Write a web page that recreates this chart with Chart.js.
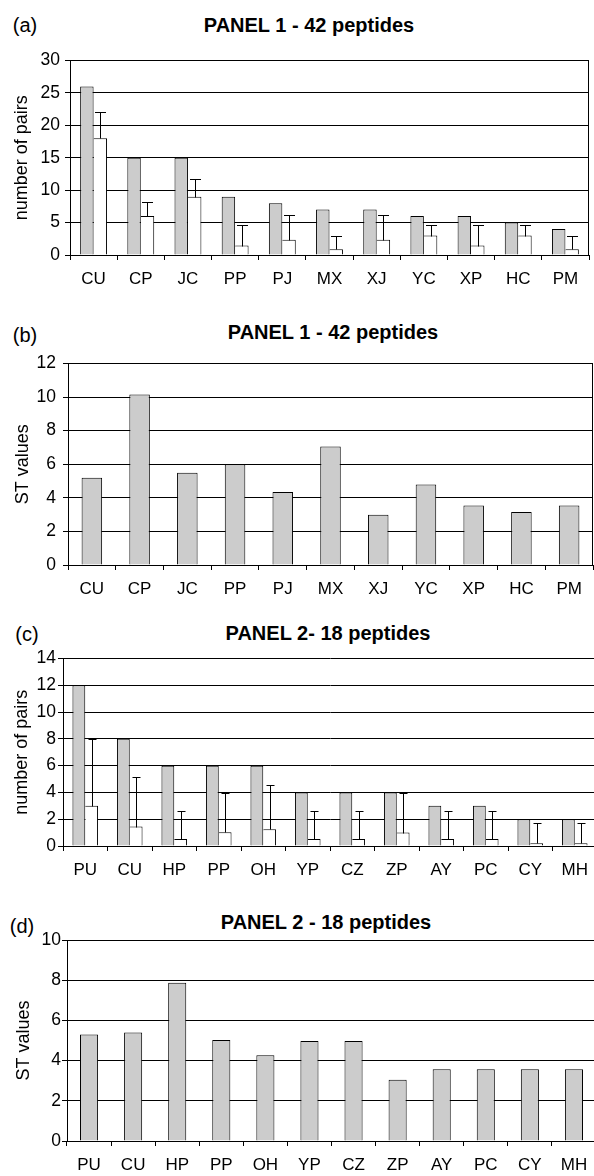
<!DOCTYPE html>
<html>
<head>
<meta charset="utf-8">
<script src="https://cdn.jsdelivr.net/npm/chart.js@4.4.1/dist/chart.umd.min.js"></script>
<style>
  html, body { margin: 0; padding: 0; background: #fff; width: 594px; height: 1176px; overflow: hidden; position: relative; }
  canvas { position: absolute; left: 0; }
  .lbl { position: absolute; font-family: 'Liberation Sans', Arial, sans-serif; color: #000; line-height: 1; white-space: nowrap; transform: translate(-50%, -50%); }
  .ttl { font-weight: bold; font-size: 20px; }
  .pl { font-size: 20px; }
</style>
</head>
<body>
<div class="lbl pl" style="left:25px; top:25px;">(a)</div>
<div class="lbl ttl" style="left:309px; top:25px;">PANEL 1 - 42 peptides</div>
<div class="lbl pl" style="left:25px; top:335px;">(b)</div>
<div class="lbl ttl" style="left:333px; top:332px;">PANEL 1 - 42 peptides</div>
<div class="lbl pl" style="left:27px; top:634px;">(c)</div>
<div class="lbl ttl" style="left:328px; top:633px;">PANEL 2- 18 peptides</div>
<div class="lbl pl" style="left:22px; top:926px;">(d)</div>
<div class="lbl ttl" style="left:326px; top:922px;">PANEL 2 - 18 peptides</div>

<canvas id="cA" width="594" height="250" style="top:45px"></canvas>
<canvas id="cB" width="594" height="259" style="top:346px"></canvas>
<canvas id="cC" width="600" height="240" style="top:646px"></canvas>
<canvas id="cD" width="600" height="253" style="top:928px"></canvas>

<script>
// ---- data ----
const catsPanel1 = ['CU','CP','JC','PP','PJ','MX','XJ','YC','XP','HC','PM'];
const pairsPanel1 = [26, 15, 15, 9, 8, 7, 7, 6, 6, 5, 4];
const expectedPanel1 = [18, 6, 9, 1.45, 2.35, 0.9, 2.35, 3, 1.45, 3, 0.9];
const errUpperPanel1 = [22, 8.2, 11.7, 4.65, 6.1, 3, 6.1, 4.65, 4.65, 4.65, 3];
const stPanel1 = [5.2, 10.15, 5.5, 6.0, 4.35, 7.05, 3.0, 4.8, 3.55, 3.15, 3.55];

const catsPanel2 = ['PU','CU','HP','PP','OH','YP','CZ','ZP','AY','PC','CY','MH'];
const pairsPanel2 = [12, 8, 6, 6, 6, 4, 4, 4, 3, 3, 2, 2];
const expectedPanel2 = [3, 1.45, 0.52, 1.02, 1.25, 0.52, 0.52, 1, 0.52, 0.52, 0.2, 0.2];
const errUpperPanel2 = [8, 5.15, 2.6, 3.95, 4.55, 2.6, 2.6, 3.95, 2.6, 2.6, 1.7, 1.7];
const stPanel2 = [5.3, 5.4, 7.87, 5.03, 4.27, 4.97, 4.97, 3.05, 3.57, 3.57, 3.57, 3.57];

const yTicksA = {min: 0, max: 30, step: 5};
const yTicksB = {min: 0, max: 12, step: 2};
const yTicksC = {min: 0, max: 14, step: 2};
const yTicksD = {min: 0, max: 10, step: 2};

Chart.defaults.font.family = "'Liberation Sans', Arial, sans-serif";
Chart.defaults.color = '#000';

const GRAY = '#cccccc';

const errorBarPlugin = {
  id: 'errorBars',
  afterDatasetsDraw(chart, args, opts) {
    if (!opts || !opts.values) return;
    const meta = chart.getDatasetMeta(opts.datasetIndex);
    const y = chart.scales.y;
    const ctx = chart.ctx;
    ctx.save();
    ctx.strokeStyle = '#000';
    ctx.lineWidth = 1;
    meta.data.forEach((el, i) => {
      const x = Math.round(el.x) + 0.5;
      const yTop = Math.round(el.y) + 0.5;
      const yErr = Math.round(y.getPixelForValue(opts.values[i])) + 0.5;
      ctx.beginPath();
      ctx.moveTo(x, yTop);
      ctx.lineTo(x, yErr);
      ctx.moveTo(x - opts.cap / 2, yErr);
      ctx.lineTo(x + opts.cap / 2, yErr);
      ctx.stroke();
    });
    ctx.restore();
  }
};

const frameRightPlugin = {
  id: 'frameRight',
  beforeDatasetsDraw(chart) {
    const {ctx, chartArea} = chart;
    ctx.save();
    ctx.strokeStyle = '#000';
    ctx.lineWidth = 1;
    const xr = Math.round(chartArea.right) - 0.5;
    ctx.beginPath();
    ctx.moveTo(xr, chartArea.top);
    ctx.lineTo(xr, chartArea.bottom);
    ctx.stroke();
    ctx.restore();
  }
};

function makeChart(id, cfg) {
  const datasets = cfg.series.map((s, k) => ({
    data: s.data,
    backgroundColor: s.color,
    borderColor: '#000',
    borderWidth: s.border,
    borderSkipped: false,
    categoryPercentage: cfg.catPct,
    barPercentage: 1.0
  }));
  return new Chart(document.getElementById(id), {
    type: 'bar',
    data: { labels: cfg.labels, datasets },
    plugins: [errorBarPlugin, frameRightPlugin],
    options: {
      responsive: false,
      animation: false,
      devicePixelRatio: 1,
      layout: { padding: { top: 12, right: cfg.padRight, left: 0, bottom: 0 } },
      plugins: {
        legend: { display: false },
        tooltip: { enabled: false },
        errorBars: cfg.err ? { values: cfg.err, datasetIndex: 1, cap: cfg.cap } : {}
      },
      scales: {
        x: {
          grid: { offset: true, drawOnChartArea: false, tickLength: 5, color: '#000', lineWidth: 1 },
          border: { display: true, color: '#000', width: 1 },
          ticks: { autoSkip: false, maxRotation: 0, font: { size: 17 }, padding: 9, color: '#000' },
          afterFit: s => { s.height = 40; }
        },
        y: {
          min: cfg.yt.min, max: cfg.yt.max,
          grid: { color: '#000', lineWidth: 1, tickLength: 5 },
          border: { display: true, color: '#000', width: 1 },
          ticks: { stepSize: cfg.yt.step, font: { size: 17.5 }, padding: cfg.yPad, color: '#000' },
          title: { display: true, text: cfg.yTitle, font: { size: 18 }, color: '#000', padding: { top: cfg.titlePad, bottom: 0 } },
          afterFit: s => { s.width = cfg.left; }
        }
      }
    }
  });
}

makeChart('cA', {
  labels: catsPanel1,
  series: [
    { data: pairsPanel1, color: GRAY, border: {top: 1, left: 1, right: 1, bottom: 0} },
    { data: expectedPanel1, color: '#ffffff', border: {top: 1, left: 0, right: 1, bottom: 0} }
  ],
  err: errUpperPanel1, cap: 11,
  catPct: 0.57, yt: yTicksA, yTitle: 'number of pairs',
  left: 70, padRight: 5, yPad: 5, titlePad: 11
});

makeChart('cB', {
  labels: catsPanel1,
  series: [ { data: stPanel1, color: GRAY, border: {top: 1, left: 1, right: 1, bottom: 0} } ],
  catPct: 0.43, yt: yTicksB, yTitle: 'ST values',
  left: 68, padRight: 1, yPad: 7, titlePad: 12
});

makeChart('cC', {
  labels: catsPanel2,
  series: [
    { data: pairsPanel2, color: GRAY, border: {top: 1, left: 1, right: 1, bottom: 0} },
    { data: expectedPanel2, color: '#ffffff', border: {top: 1, left: 0, right: 1, bottom: 0} }
  ],
  err: errUpperPanel2, cap: 8,
  catPct: 0.575, yt: yTicksC, yTitle: 'number of pairs',
  left: 63, padRight: 3, yPad: 2, titlePad: 11
});

makeChart('cD', {
  labels: catsPanel2,
  series: [ { data: stPanel2, color: GRAY, border: {top: 1, left: 1, right: 1, bottom: 0} } ],
  catPct: 0.41, yt: yTicksD, yTitle: 'ST values',
  left: 67, padRight: 4, yPad: 1, titlePad: 13
});
</script>
</body>
</html>
